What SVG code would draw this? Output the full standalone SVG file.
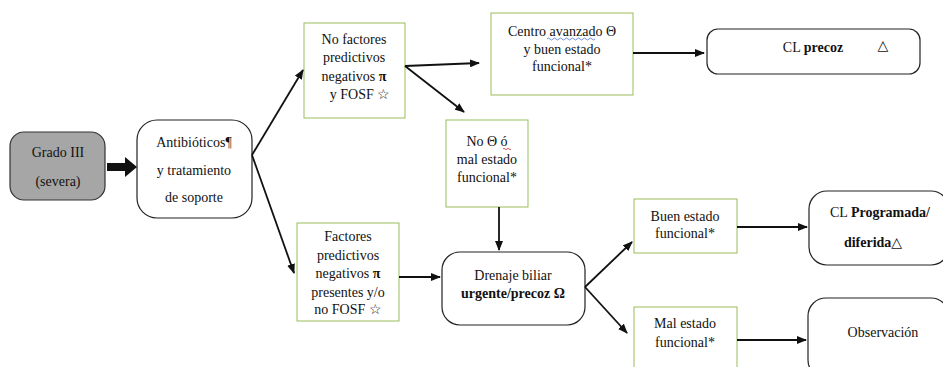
<svg xmlns="http://www.w3.org/2000/svg" width="943" height="367" viewBox="0 0 943 367">
<defs>
<style>
text{font-family:'Liberation Serif','DejaVu Serif',serif;font-size:14px;fill:#111;text-anchor:middle}
.b{font-weight:bold}
.g{fill:#fff;stroke:#9bbb59;stroke-width:1}
.r{fill:#fff;stroke:#222;stroke-width:1.2}
.c{stroke:#111;stroke-width:1.8;fill:none}
</style>
<marker id="ah" markerWidth="10" markerHeight="8" refX="9" refY="4" orient="auto" markerUnits="userSpaceOnUse">
<path d="M0,0 L10,4 L0,8 Z" fill="#111"/>
</marker>
</defs>
<rect width="943" height="367" fill="#fff"/>

<g id="grado">
<rect x="10" y="132" width="95" height="68" rx="14" fill="#a6a6a6" stroke="#333" stroke-width="1.2"/>
<text x="58" y="157">Grado III</text>
<text x="58" y="186">(severa)</text>
</g>

<g id="antibioticos">
<rect class="r" x="137" y="120" width="115" height="98" rx="20"/>
<text x="194" y="147">Antibióticos¶</text>
<text x="194" y="175">y tratamiento</text>
<text x="194" y="202">de soporte</text>
</g>

<g id="no-factores">
<rect class="g" x="304" y="23" width="101" height="95"/>
<text x="354" y="44">No factores</text>
<text x="354" y="62">predictivos</text>
<text x="354" y="81">negativos <tspan class="b">π</tspan></text>
<text x="360" y="99">y FOSF ☆</text>
</g>

<g id="centro">
<rect class="g" x="491" y="13" width="142" height="82"/>
<text x="562" y="36">Centro avanzado  Θ</text>
<path d="M547,39 q1.5,-2 3,0 t3,0 t3,0 t3,0 t3,0 t3,0 t3,0 t3,0 t3,0 t3,0 t3,0 t3,0 t3,0 t3,0 t3,0 t3,0" stroke="#4a6fd1" stroke-width="0.8" fill="none"/>
<text x="562" y="54">y buen estado</text>
<text x="562" y="71">funcional*</text>
</g>

<g id="cl-precoz">
<rect class="r" x="707" y="29" width="213" height="45" rx="11"/>
<text x="813" y="52">CL <tspan class="b">precoz</tspan></text>
<text x="883" y="50">△</text>
</g>

<g id="no-theta">
<rect class="g" x="446" y="120" width="82" height="87"/>
<text x="487" y="146">No Θ ó</text>
<path d="M503,149 q1,-1.5 2,0 t2,0 t2,0 t2,0" stroke="#d03030" stroke-width="0.8" fill="none"/>
<text x="487" y="164">mal estado</text>
<text x="487" y="182">funcional*</text>
</g>

<g id="factores">
<rect class="g" x="297" y="223" width="102" height="98"/>
<text x="348" y="241">Factores</text>
<text x="348" y="260">predictivos</text>
<text x="348" y="278">negativos <tspan class="b">π</tspan></text>
<text x="348" y="297">presentes y/o</text>
<text x="348" y="314">no FOSF ☆</text>
</g>

<g id="drenaje">
<rect class="r" x="442" y="252" width="143" height="73" rx="18"/>
<text x="513" y="280">Drenaje biliar</text>
<text x="513" y="298" class="b">urgente/precoz Ω</text>
</g>

<g id="buen">
<rect class="g" x="634" y="199" width="103" height="54"/>
<text x="685" y="221">Buen estado</text>
<text x="685" y="238">funcional*</text>
</g>

<g id="cl-programada">
<rect class="r" x="809" y="191" width="140" height="74" rx="18"/>
<text x="880" y="217">CL <tspan class="b">Programada/</tspan></text>
<text x="873" y="247"><tspan class="b">diferida</tspan>△</text>
</g>

<g id="mal">
<rect class="g" x="634" y="307" width="103" height="65"/>
<text x="685" y="328">Mal estado</text>
<text x="685" y="347">funcional*</text>
</g>

<g id="observacion">
<rect class="r" x="808" y="298" width="141" height="80" rx="18"/>
<text x="883" y="337">Observación</text>
</g>

<g id="connectors">
<polygon points="107,163 125,163 125,157 137,167 125,177 125,171 107,171" fill="#111"/>
<path class="c" d="M252,155 L303,70" marker-end="url(#ah)"/>
<path class="c" d="M252,155 L294,273" marker-end="url(#ah)"/>
<path class="c" d="M405,66 L479,63" marker-end="url(#ah)"/>
<path class="c" d="M405,66 L464,112" marker-end="url(#ah)"/>
<path class="c" d="M633,53 L704,53" marker-end="url(#ah)"/>
<path class="c" d="M499,207 L499,250" marker-end="url(#ah)"/>
<path class="c" d="M399,277 L440,277" marker-end="url(#ah)"/>
<path class="c" d="M585,287 L632,242" marker-end="url(#ah)"/>
<path class="c" d="M585,287 L627,333" marker-end="url(#ah)"/>
<path class="c" d="M737,227 L807,227" marker-end="url(#ah)"/>
<path class="c" d="M737,340 L806,340" marker-end="url(#ah)"/>
</g>
</svg>
